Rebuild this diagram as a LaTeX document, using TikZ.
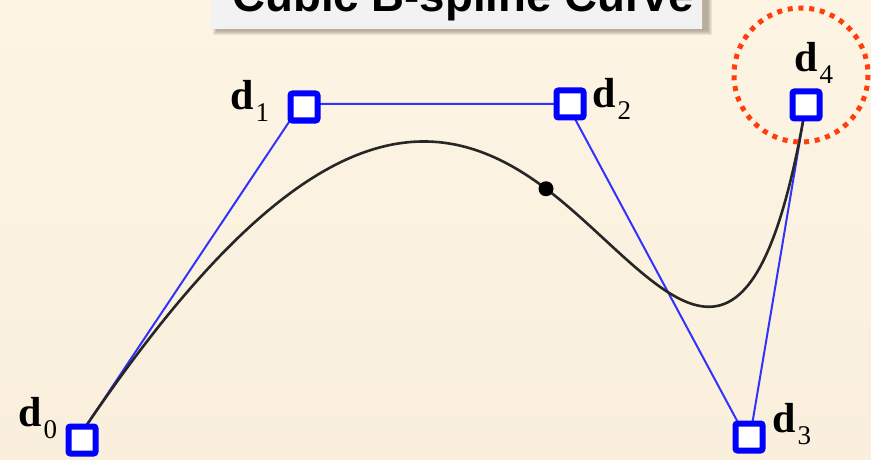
\documentclass[tikz,border=0pt]{standalone}
\usepackage{fontspec}
\setmainfont{Liberation Serif}
\newfontfamily\titlefont{Liberation Sans}
\usetikzlibrary{calc}
\definecolor{bgtop}{RGB}{254,244,228}
\definecolor{bgbot}{RGB}{249,239,220}
\definecolor{polyblue}{RGB}{50,50,255}
\definecolor{ctrlblue}{RGB}{0,0,255}
\definecolor{dotred}{RGB}{255,62,10}
\definecolor{shadowcol}{RGB}{120,108,88}
\definecolor{titlegray}{RGB}{240,240,240}
\newcommand\dlab[1]{{\fontsize{42}{42}\selectfont\bfseries d}\kern2pt\raisebox{-12pt}{\fontsize{27}{27}\selectfont #1}}
\tikzset{
  ctrlbox/.style={draw=ctrlblue, fill=white, line width=6pt, minimum size=27pt, inner sep=0pt, rounded corners=2pt},
  polyline/.style={draw=polyblue, line width=2pt},
  curveline/.style={draw=black!85, line width=2.6pt},
  lbl/.style={anchor=base west, inner sep=0pt},
  marker/.style={draw=dotred, line width=5pt, dash pattern=on 5pt off 5.8pt}
}
\begin{document}
\begin{tikzpicture}[x=1pt,y=-1pt]
\useasboundingbox (0,0) rectangle (871,460);
\clip (0,0) rectangle (871,460);
\shade[top color=bgtop, bottom color=bgbot] (0,0) rectangle (871,460);
% title box with soft shadow
\foreach \k in {0,1,2,3,4}{
  \fill[shadowcol, opacity=0.13] (213+\k,-60) rectangle (712-\k,35-\k);
}
\shade[top color=titlegray, bottom color=titlegray!85!white] (211,-60) rectangle (702,29);
\node[anchor=base, inner sep=0pt] (title) at (463,12) {\titlefont\bfseries\fontsize{45.6}{46}\selectfont Cubic B-spline Curve};
% control polygon vertices
\coordinate (v0) at (78,438);
\coordinate (v1) at (301,104);
\coordinate (v2) at (567,104);
\coordinate (v3) at (749,443);
\coordinate (v4) at (806,104);
\coordinate (m12) at ($(v1)!0.5!(v2)$);
\coordinate (m23) at ($(v2)!0.5!(v3)$);
\coordinate (j) at ($(m12)!0.5!(m23)$);
\draw[polyline] (v0) -- (v1) -- (v2) -- (v3) -- (v4);
% B-spline curve (two cubic Bezier pieces)
\draw[curveline] (v0) .. controls (v1) and (m12) .. (j) .. controls (m23) and (v3) .. (v4);
\fill[black] (j) circle[radius=7.5];
% control point boxes
\node[ctrlbox] (d0) at (82,440) {};
\node[ctrlbox] (d1) at (304,107) {};
\node[ctrlbox] (d2) at (570,104) {};
\node[ctrlbox] (d3) at (749,437) {};
\node[ctrlbox] (d4) at (806,105) {};
% labels
\node[lbl] (l0) at (18,426) {\dlab{0}};
\node[lbl] (l1) at (230,110) {\dlab{1}};
\node[lbl] (l2) at (592,108) {\dlab{2}};
\node[lbl] (l3) at (772,432) {\dlab{3}};
\node[lbl] (l4) at (794,72) {\dlab{4}};
% dotted highlight circle
\draw[marker] (801,75) circle[radius=67];
\end{tikzpicture}
\end{document}
